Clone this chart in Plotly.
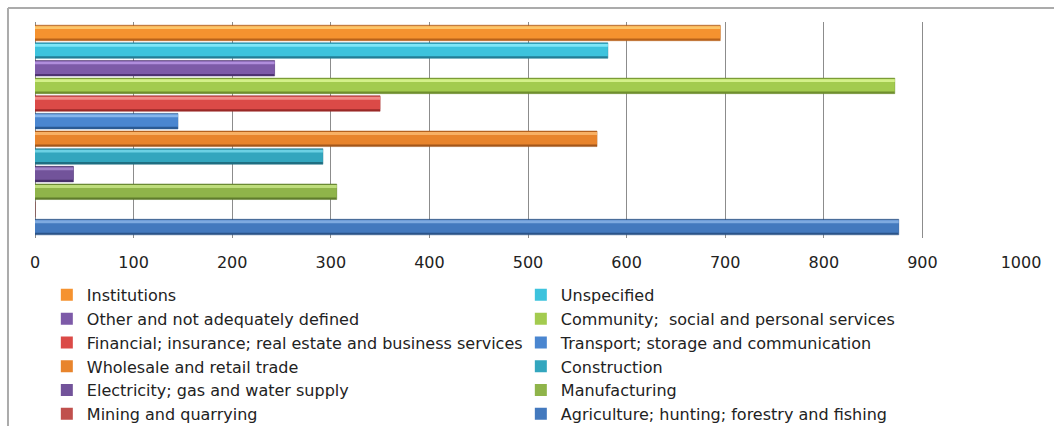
import plotly.graph_objects as go

# Employment by industry (single group, one series per industry)
industries = [
    "Agriculture; hunting; forestry and fishing",
    "Mining and quarrying",
    "Manufacturing",
    "Electricity; gas and water supply",
    "Construction",
    "Wholesale and retail trade",
    "Transport; storage and communication",
    "Financial; insurance; real estate and business services",
    "Community;  social and personal services",
    "Other and not adequately defined",
    "Unspecified",
    "Institutions",
]
values = [876, 0, 306, 39, 292, 570, 145, 350, 872, 243, 581, 695]

# (mid, light, dark) shades for the bevelled bar look
mid_colors = ["#4379BE", "#C0504D", "#8FB44A", "#72539A", "#33A6BE", "#E8842C",
              "#4A86D0", "#DB4A47", "#A3CB4F", "#7D5AA8", "#3DC3DD", "#F5922F"]
light_colors = ["#7EAAE0", "#E08A88", "#BEDD7C", "#A184C7", "#6CD1E4", "#F8B064",
                "#86B6EC", "#F28B88", "#D4F08A", "#B08DDC", "#7FE6F7", "#FBC56A"]
dark_colors = ["#2A5389", "#8A2C2A", "#5F7C2C", "#47306A", "#1F6F82", "#A3561A",
               "#2B5A93", "#9A2A28", "#6F8E2E", "#4F3373", "#237E96", "#B8621A"]

x_ticks = [0, 100, 200, 300, 400, 500, 600, 700, 800, 900, 1000]

fig = go.Figure()

for name, v, mc, lc, dc in zip(industries, values, mid_colors, light_colors, dark_colors):
    # base (dark lower edge)
    fig.add_trace(go.Bar(
        y=[name], x=[v], orientation="h", name=name,
        width=0.88, offset=-0.44,
        marker=dict(color=dc, line=dict(color=dc, width=0.5)),
        showlegend=False, hoverinfo="skip",
    ))
    # main body
    fig.add_trace(go.Bar(
        y=[name], x=[v], orientation="h", name=name,
        width=0.72, offset=-0.32,
        marker=dict(color=mc, line=dict(width=0)),
        showlegend=True, legendrank=1000 - industries.index(name),
    ))
    # top highlight
    fig.add_trace(go.Bar(
        y=[name], x=[v], orientation="h", name=name,
        width=0.16, offset=0.22,
        marker=dict(color=lc, line=dict(width=0)),
        showlegend=False, hoverinfo="skip",
    ))

# outer chart frame (left and top edges)
frame = dict(type="line", xref="paper", yref="paper",
             line=dict(color="#ABABAB", width=2))
fig.add_shape(x0=-0.0274, x1=-0.0274, y0=1.0648, y1=-1.0, **frame)
fig.add_shape(x0=-0.0274, x1=1.04, y0=1.0648, y1=1.0648, **frame)

fig.update_layout(
    width=1054, height=426,
    margin=dict(l=35, r=33, t=22, b=188, autoexpand=False),
    barmode="overlay",
    paper_bgcolor="white", plot_bgcolor="white",
    font=dict(family="DejaVu Sans", color="#222222"),
    xaxis=dict(
        range=[0, 1000], tickvals=x_ticks,
        showgrid=True, gridcolor="#8C8C8C", gridwidth=1.2,
        zeroline=True, zerolinecolor="#8C8C8C", zerolinewidth=1.2,
        showline=False, ticks="",
        tickfont=dict(size=16, family="DejaVu Sans", color="#222222"),
        ticklabelstandoff=13,
        fixedrange=True,
    ),
    yaxis=dict(
        type="category", categoryorder="array", categoryarray=industries,
        range=[-0.62, 11.62], showticklabels=False, showgrid=False,
        zeroline=False, showline=False, ticks="", fixedrange=True,
    ),
    legend=dict(
        orientation="h", x=0.012, xanchor="left", y=-0.185, yanchor="top",
        entrywidth=429, entrywidthmode="pixels",
        font=dict(size=16, family="DejaVu Sans", color="#222222"),
        bgcolor="rgba(0,0,0,0)", itemclick=False, itemdoubleclick=False,
    ),
    showlegend=True,
)

fig.write_html("out.html")
